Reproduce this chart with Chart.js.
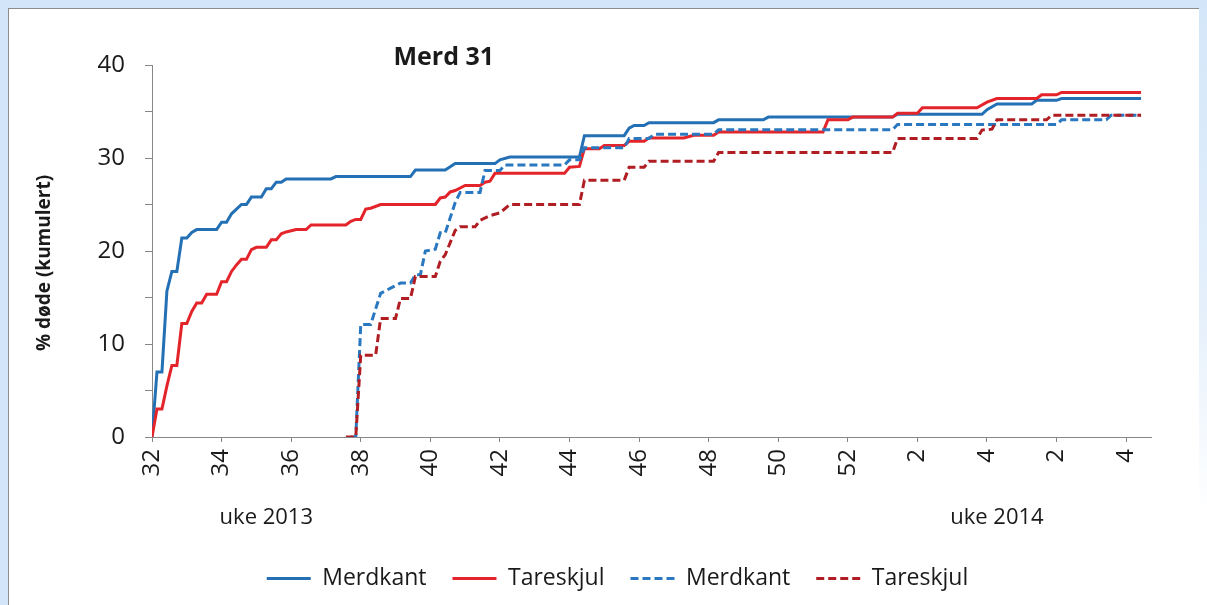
<!DOCTYPE html>
<html>
<head>
<meta charset="utf-8">
<title>Merd 31</title>
<script src="https://cdn.jsdelivr.net/npm/chart.js@4.4.1/dist/chart.umd.min.js"></script>
<style>
  html, body { margin: 0; padding: 0; }
  body {
    width: 1207px; height: 605px; overflow: hidden; position: relative;
    background: linear-gradient(to bottom, #d3e6f9 0%, #e4effb 50%, #ffffff 85%);
  }
  .edge { position: absolute; left: 0; top: 0; width: 8px; height: 605px; background: #d3e6f9; }
  .panel {
    position: absolute; left: 8px; top: 8px; width: 1190px; height: 597px;
    background: #fff; border-left: 1px solid #8c8c8c; border-top: 1px solid #8c8c8c;
  }
  #wrap { position: absolute; left: 0; top: 0; width: 1207px; height: 605px; }
</style>
</head>
<body>
<div class="edge"></div>
<div class="panel"></div>
<div id="wrap"><canvas id="merdChart"></canvas></div>

<script>
// ================================================================
// Data: x = days since start of week 32 (2013), y = % dead (cumulative)
// ================================================================
const weekTickDays = [0, 14, 28, 42, 56, 70, 84, 98, 112, 126, 140, 154, 168, 182, 196];
const weekLabels = ['32', '34', '36', '38', '40', '42', '44', '46', '48', '50', '52', '2', '4', '2', '4'];
const seriesNames = ['Merdkant', 'Tareskjul', 'Merdkant', 'Tareskjul'];
const yearLabels = ['uke 2013', 'uke 2014'];
const yearLabelDays = [23, 170];
const chartTitle = 'Merd 31';
const yTitle = '% døde (kumulert)';

// first group (solid lines)
const merdkantDays = [0, 1, 2, 3, 4, 5, 6, 7, 8, 9, 13, 14, 15, 16, 17, 18, 19, 20, 22, 23, 24, 25, 26, 27,
  36, 37, 52, 53, 59, 61, 69, 70, 72, 86, 87, 95, 96, 97, 99, 100, 113, 114, 123, 124, 149, 150,
  167, 168, 170, 177, 178, 182, 183, 199];
const merdkantVals = [0, 7.0, 7.0, 15.7, 17.8, 17.8, 21.4, 21.4, 22.0, 22.3, 22.3, 23.1, 23.1, 24.0, 24.5, 25.0, 25.0, 25.8,
  25.8, 26.7, 26.7, 27.4, 27.4, 27.75, 27.75, 28.0, 28.0, 28.7, 28.7, 29.4, 29.4, 29.8, 30.1, 30.1, 32.4,
  32.4, 33.2, 33.5, 33.5, 33.8, 33.8, 34.1, 34.1, 34.4, 34.4, 34.7, 34.7, 35.2, 35.8, 35.8, 36.2, 36.2, 36.4, 36.4];

const tareskjulDays = [0, 1, 2, 3, 4, 5, 6, 7, 8, 9, 10, 11, 13, 14, 15, 16, 17, 18, 19, 20, 21, 23, 24, 25, 26, 27,
  29, 31, 32, 39, 40, 41, 42, 43, 44, 46, 57, 58, 59, 60, 61, 63, 66, 67, 68, 69, 83, 84, 86, 87,
  90, 91, 95, 96, 99, 100, 107, 109, 113, 114, 135, 136, 140, 141, 149, 150, 154, 155, 166, 168, 170,
  178, 179, 182, 183, 199];
const tareskjulVals = [0, 3.0, 3.0, 5.5, 7.7, 7.7, 12.2, 12.2, 13.5, 14.4, 14.4, 15.35, 15.35, 16.7, 16.7, 17.8, 18.5, 19.1,
  19.1, 20.15, 20.4, 20.4, 21.2, 21.2, 21.85, 22.05, 22.3, 22.3, 22.8, 22.8, 23.2, 23.4, 23.4, 24.5, 24.6, 25.0,
  25.0, 25.7, 25.8, 26.35, 26.5, 27.05, 27.05, 27.4, 27.5, 28.35, 28.35, 29.0, 29.1, 31.0, 31.0, 31.35, 31.35,
  31.8, 31.8, 32.15, 32.15, 32.45, 32.45, 32.8, 32.8, 34.1, 34.1, 34.4, 34.4, 34.8, 34.8, 35.4, 35.4, 36.0, 36.4,
  36.4, 36.8, 36.8, 37.05, 37.05];

// second group (dashed lines), starting around week 38
const merdkant2Days = [40, 41, 42, 44, 46, 48, 50, 52, 53, 54, 55, 57, 58, 59, 61, 62, 66, 67, 70, 71,
  83, 84, 86, 87, 95, 96, 100, 101, 113, 114, 149, 150, 182, 183, 192, 193, 199];
const merdkant2Vals = [0, 0, 12.1, 12.1, 15.45, 16.0, 16.55, 16.55, 17.45, 17.45, 20.0, 20.2, 21.95, 21.95, 25.2, 26.3,
  26.3, 28.65, 28.65, 29.25, 29.25, 29.8, 29.8, 31.1, 31.1, 32.1, 32.1, 32.55, 32.55, 33.05, 33.05, 33.6, 33.6,
  34.1, 34.1, 34.6, 34.6];

const tareskjul2Days = [39, 41, 42, 45, 46, 49, 50, 52, 53, 57, 58, 59, 61, 62, 65, 66, 68, 70, 72, 86,
  87, 95, 96, 99, 100, 113, 114, 149, 150, 166, 167, 169, 170, 180, 181, 199];
const tareskjul2Vals = [0, 0, 8.8, 8.8, 12.75, 12.75, 14.9, 14.9, 17.25, 17.25, 18.9, 19.6, 22.2, 22.6, 22.6, 23.3,
  23.8, 24.1, 25.0, 25.0, 27.6, 27.6, 29.0, 29.0, 29.65, 29.65, 30.6, 30.6, 32.1, 32.1, 33.0, 33.1, 34.1, 34.1,
  34.6, 34.6];

const toPoints = (days, vals) => days.map((d, i) => ({x: d, y: vals[i]}));

const FONT = '"Open Sans", "DejaVu Sans", sans-serif';
const TEXT_COLOR = '#1a1a1a';
const AXIS_COLOR = '#878787';

// title, year labels and y title drawn on the canvas
const annotationText = {
  id: 'annotationText',
  afterDraw(chart) {
    const {ctx, chartArea, scales} = chart;
    ctx.save();
    ctx.fillStyle = TEXT_COLOR;
    ctx.textAlign = 'center';
    ctx.textBaseline = 'middle';

    ctx.font = 'bold 25px ' + FONT;
    ctx.fillText(chartTitle, scales.x.getPixelForValue(58.7), chartArea.top - 7);

    ctx.font = '22px ' + FONT;
    yearLabels.forEach((t, i) => {
      ctx.fillText(t, scales.x.getPixelForValue(yearLabelDays[i]), chartArea.bottom + 81);
    });

    ctx.translate(45, (chartArea.top + chartArea.bottom) / 2 + 12);
    ctx.rotate(-Math.PI / 2);
    ctx.font = 'bold 19px ' + FONT;
    ctx.fillText(yTitle, 0, 0);
    ctx.restore();
  }
};

const lineBase = {
  borderWidth: 3,
  pointRadius: 0,
  pointHoverRadius: 0,
  tension: 0,
  fill: false
};

const data = {
  datasets: [
    Object.assign({}, lineBase, {
      label: seriesNames[0], data: toPoints(merdkantDays, merdkantVals),
      borderColor: '#2470b5', backgroundColor: '#2470b5', order: 4
    }),
    Object.assign({}, lineBase, {
      label: seriesNames[1], data: toPoints(tareskjulDays, tareskjulVals),
      borderColor: '#e4242b', backgroundColor: '#e4242b', order: 3
    }),
    Object.assign({}, lineBase, {
      label: seriesNames[2], data: toPoints(merdkant2Days, merdkant2Vals),
      borderColor: '#2a78bf', backgroundColor: '#2a78bf', borderDash: [8, 4], order: 2
    }),
    Object.assign({}, lineBase, {
      label: seriesNames[3], data: toPoints(tareskjul2Days, tareskjul2Vals),
      borderColor: '#b01d22', backgroundColor: '#b01d22', borderDash: [8, 4], order: 1
    })
  ]
};

// legend items keep the dataset dash pattern
const legendLabels = (chart) => {
  const items = Chart.defaults.plugins.legend.labels.generateLabels(chart);
  items.forEach(item => {
    const ds = chart.data.datasets[item.datasetIndex];
    item.lineDash = ds.borderDash || [];
    item.lineWidth = ds.borderWidth;
    item.strokeStyle = ds.borderColor;
  });
  return items;
};

const config = {
  type: 'line',
  data: data,
  options: {
    responsive: true,
    maintainAspectRatio: false,
    animation: false,
    layout: {
      padding: {left: 84, top: 65, right: 56, bottom: 5}
    },
    scales: {
      x: {
        type: 'linear',
        min: 0,
        max: 201,
        afterBuildTicks: (scale) => {
          scale.ticks = weekTickDays.map(v => ({value: v}));
        },
        afterFit: (scale) => { scale.height = 104; },
        ticks: {
          autoSkip: false,
          minRotation: 90,
          maxRotation: 90,
          padding: 7,
          color: TEXT_COLOR,
          font: {family: FONT, size: 24},
          callback: (value, index) => weekLabels[index]
        },
        grid: {drawOnChartArea: false, tickLength: 5, color: AXIS_COLOR},
        border: {color: AXIS_COLOR, width: 1}
      },
      y: {
        min: 0,
        max: 40,
        afterFit: (scale) => { scale.width = 68; },
        ticks: {
          stepSize: 5,
          padding: 20,
          color: TEXT_COLOR,
          font: {family: FONT, size: 24},
          callback: (value) => (value % 10 === 0 ? value : '')
        },
        grid: {drawOnChartArea: false, tickLength: 7, color: AXIS_COLOR},
        border: {color: AXIS_COLOR, width: 1}
      }
    },
    plugins: {
      title: {display: false},
      tooltip: {enabled: false},
      legend: {
        position: 'bottom',
        labels: {
          usePointStyle: true,
          pointStyle: 'line',
          pointStyleWidth: 44,
          padding: 26,
          color: TEXT_COLOR,
          font: {family: FONT, size: 23},
          generateLabels: legendLabels,
          sort: (a, b) => a.datasetIndex - b.datasetIndex
        }
      }
    }
  },
  plugins: [annotationText]
};

new Chart(document.getElementById('merdChart'), config);
</script>
</body>
</html>
